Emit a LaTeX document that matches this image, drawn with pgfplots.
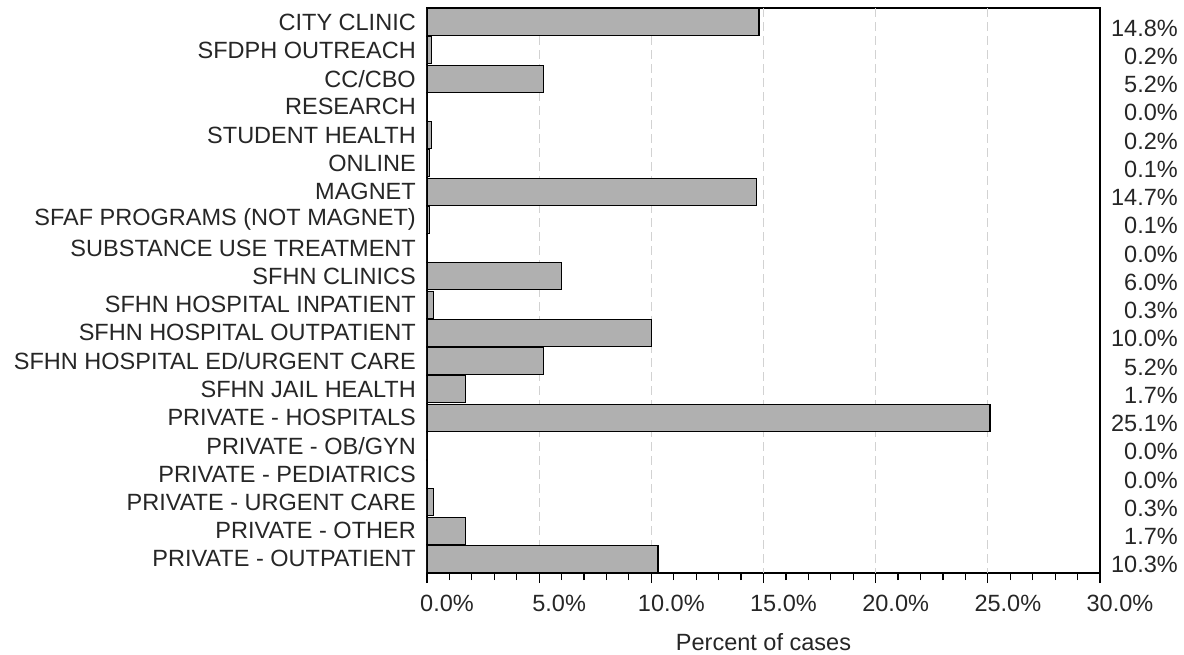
\documentclass[border=0pt]{standalone}
\usepackage{pgfplots}
\pgfplotsset{compat=1.18}
\usepackage{fontspec}
\setmainfont{Liberation Sans}
\definecolor{barfill}{RGB}{176,176,176}
\definecolor{gridc}{RGB}{210,210,210}
\newcommand{\fsz}{\fontsize{23.6}{27}\selectfont}
\begin{document}
\begin{tikzpicture}
\begin{axis}[
  name=ax, at={(0,0)}, anchor=south west,
  scale only axis, width=673bp, height=565bp,
  xbar, bar width=27bp,
  xmin=0, xmax=30, ymin=-0.5, ymax=19.5, y dir=reverse,
  ytick={0,...,19},
  yticklabels={CITY CLINIC,SFDPH OUTREACH,CC/CBO,RESEARCH,STUDENT HEALTH,ONLINE,MAGNET,SFAF PROGRAMS (NOT MAGNET),SUBSTANCE USE TREATMENT,SFHN CLINICS,SFHN HOSPITAL INPATIENT,SFHN HOSPITAL OUTPATIENT,SFHN HOSPITAL ED/URGENT CARE,SFHN JAIL HEALTH,PRIVATE - HOSPITALS,PRIVATE - OB/GYN,PRIVATE - PEDIATRICS,PRIVATE - URGENT CARE,PRIVATE - OTHER,PRIVATE - OUTPATIENT},
  ytick style={draw=none},
  xtick={0,5,...,30},
  xticklabels={0.0\%,5.0\%,10.0\%,15.0\%,20.0\%,25.0\%,30.0\%},
  minor x tick num=4,
  xtick pos=bottom, tick align=outside,
  major tick length=10bp, minor tick length=7bp,
  tick style={black, line width=1.2bp},
  extra x ticks={5,10,15,20,25},
  extra x tick labels={},
  extra x tick style={grid=major, major tick length=0pt},
  grid style={gridc, line width=1.2bp, dash pattern=on 9bp off 5bp},
  axis line style={black, line width=1.2bp},
  tick label style={font=\fsz, text=black!85},
  yticklabel style={anchor=east, inner sep=0pt, xshift=-1bp},
  xticklabel style={anchor=north, inner sep=0pt, xshift=20bp, yshift=-12bp},
  xlabel={Percent of cases},
  xlabel style={font=\fsz, text=black!85, at={(axis description cs:0.5,0)}, anchor=base, yshift=-77bp},
]
\addplot[fill=barfill, draw=black, line width=1.2bp] coordinates {
(14.8,0) (0.2,1) (5.2,2) (0.0,3) (0.2,4) (0.1,5) (14.7,6) (0.1,7) (0.0,8) (6.0,9)
(0.3,10) (10.0,11) (5.2,12) (1.7,13) (25.1,14) (0.0,15) (0.0,16) (0.3,17) (1.7,18) (10.3,19)
};
\end{axis}
\begin{axis}[
  at={(0,0)}, anchor=south west,
  scale only axis, width=673bp, height=565bp,
  xmin=0, xmax=30, ymin=-0.5, ymax=19.5, y dir=reverse,
  axis x line=none, axis y line*=right,
  y axis line style={draw=none},
  ytick={0,...,19},
  yticklabels={14.8\%,0.2\%,5.2\%,0.0\%,0.2\%,0.1\%,14.7\%,0.1\%,0.0\%,6.0\%,0.3\%,10.0\%,5.2\%,1.7\%,25.1\%,0.0\%,0.0\%,0.3\%,1.7\%,10.3\%},
  ytick style={draw=none},
  yticklabel pos=right,
  tick label style={font=\fsz, text=black!85},
  yticklabel style={anchor=east, inner sep=0pt, xshift=78bp, yshift=-6bp},
]
\addplot[draw=none] coordinates {(0,0) (0,19)};
\end{axis}
\pgfresetboundingbox
\path[use as bounding box] (ax.south west) ++(-427bp,-82bp) rectangle ++(1184bp,655bp);
\end{tikzpicture}
\end{document}
